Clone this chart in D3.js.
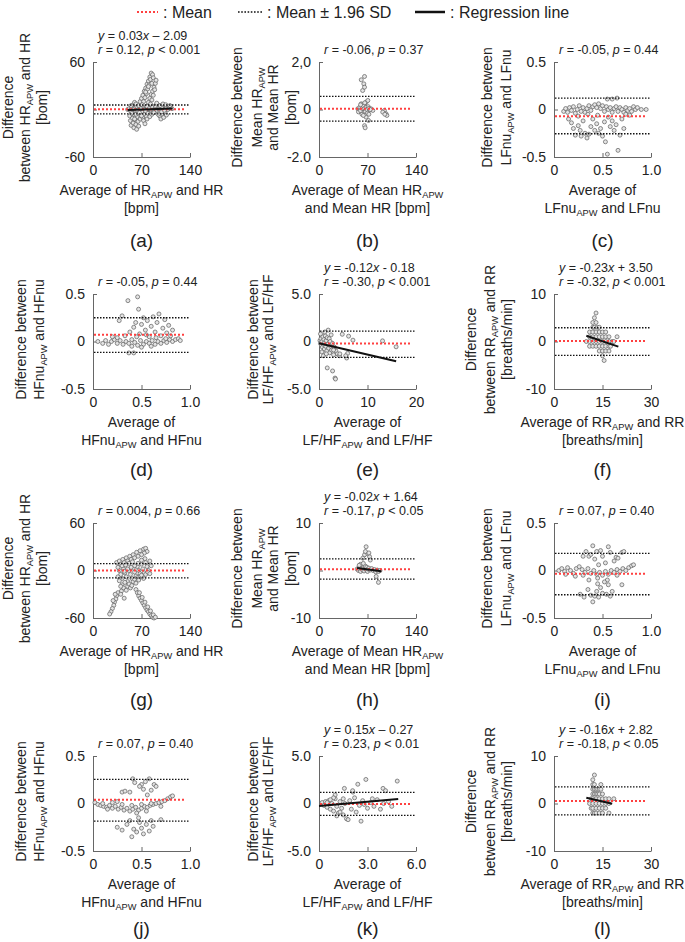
<!DOCTYPE html>
<html>
<head>
<meta charset="utf-8">
<script src="https://cdn.jsdelivr.net/npm/d3@7"></script>
<style>
  body { margin: 0; background: #fff; }
  svg { display: block; }
  text { font-family: "Liberation Sans", Arial, sans-serif; fill: #222; }
</style>
</head>
<body>
<svg width="685" height="942"></svg>
<script>
// ---- data ----
var panelIds = ["a", "b", "c", "d", "e", "f", "g", "h", "i", "j", "k", "l"];

var xDomains = [[0,140],[0,140],[0,1],[0,1],[0,20],[0,30],[0,140],[0,140],[0,1],[0,1],[0,6],[0,30]];
var yDomains = [[-60,60],[-2,2],[-0.5,0.5],[-0.5,0.5],[-5,5],[-10,10],[-60,60],[-10,10],[-0.5,0.5],[-0.5,0.5],[-5,5],[-10,10]];

var xTickLabels = [["0","70","140"],["0","70","140"],["0","0.5","1.0"],["0","0.5","1.0"],["0","10","20"],["0","15","30"],
                   ["0","70","140"],["0","70","140"],["0","0.5","1.0"],["0","0.5","1.0"],["0","3.0","6.0"],["0","15","30"]];
var yTickLabels = [["-60","0","60"],["-2.0","0","2,0"],["-0.5","0","0.5"],["-0.5","0","0.5"],["-5.0","0","5.0"],["-10","0","10"],
                   ["-60","0","60"],["-10","0","10"],["-0.5","0","0.5"],["-0.5","0","0.5"],["-5.0","0","5.0"],["-10","0","10"]];

var meanDiff = [0.2, 0.03, -0.07, 0.07, -0.2, 0.1, 0, 0.28, -0.035, 0.04, -0.05, 0.55];
var upperLoA = [5.7, 0.55, 0.12, 0.25, 1.1, 2.9, 8.8, 2.43, 0.18, 0.255, 1.18, 3.5];
var lowerLoA = [-5.5, -0.49, -0.255, -0.115, -1.67, -2.9, -9.2, -1.8, -0.255, -0.185, -1.25, -2.4];

var regSlope = [0.03, null, null, null, -0.12, -0.23, null, -0.02, null, null, 0.15, -0.16];
var regIntercept = [-2.09, null, null, null, -0.18, 3.50, null, 1.64, null, null, -0.27, 2.82];
var regRange = [[50,115], null, null, null, [0,15.9], [10,19.9], null, [55,90], null, null, [0,4.9], [10,18]];

var statsEq = ["*y* = 0.03*x* \u2013 2.09", null, null, null, "*y* = -0.12*x* - 0.18", "*y* = -0.23*x* + 3.50",
               null, "*y* = -0.02*x* + 1.64", null, null, "*y* = 0.15*x* \u2013 0.27", "*y* = -0.16*x* + 2.82"];
var statsR = ["*r* = 0.12, *p* < 0.001", "*r* = -0.06, *p* = 0.37", "*r* = -0.05, *p* = 0.44", "*r* = -0.05, *p* = 0.44",
              "*r* = -0.30, *p* < 0.001", "*r* = -0.32, *p* < 0.001", "*r* = 0.004, *p* = 0.66", "*r* = -0.17, *p* < 0.05",
              "*r* = 0.07, *p* = 0.40", "*r* = 0.07, *p* = 0.40", "*r* = 0.23, *p* < 0.01", "*r* = -0.18, *p* < 0.05"];

var yLabels = {
  hr:   ["Difference", "between HR{APW} and HR", "[bom]"],
  mhr:  ["Difference between", "Mean HR{APW}", "and Mean HR", "[bom]"],
  lf:   ["Difference between", "LFnu{APW} and LFnu"],
  hf:   ["Difference between", "HFnu{APW} and HFnu"],
  lfhf: ["Difference between", "LF/HF{APW} and LF/HF"],
  rr:   ["Difference", "between RR{APW} and RR", "[breaths/min]"]
};
var xLabels = {
  hr:   ["Average of HR{APW} and HR", "[bpm]"],
  mhr:  ["Average of Mean HR{APW}", "and Mean HR [bpm]"],
  lf:   ["Average of", "LFnu{APW} and LFnu"],
  hf:   ["Average of", "HFnu{APW} and HFnu"],
  lfhf: ["Average of", "LF/HF{APW} and LF/HF"],
  rr:   ["Average of RR{APW} and RR", "[breaths/min]"]
};
var panelKind = ["hr","mhr","lf","hf","lfhf","rr","hr","mhr","lf","hf","lfhf","rr"];

var pointsA = [[50,0],[52,1],[54,-1],[56,2],[58,0],[60,1],[62,-2],[64,0],[66,2],[68,-1],[70,1],[72,3],[74,0],[76,-2],[78,2],
  [80,0],[82,1],[84,-1],[86,3],[88,0],[90,2],[92,-1],[94,1],[96,3],[98,0],[100,2],[102,-2],[104,1],[106,3],[108,0],[110,2],
  [112,4],[114,1],[55,-3],[63,4],[71,-3],[79,5],[87,-3],[95,5],[103,-4],[111,5],
  [53,-8],[54,-14],[55,-20],[56,-5],[57,-11],[58,-17],[59,-23],[60,-7],[61,-13],[62,-19],[63,-25],[64,-9],[65,-15],[66,-21],
  [67,-6],[68,-12],[58,6],[60,9],[62,7],[55,5],
  [60,-12],[62,-6],[64,-1],[66,5],[68,10],[70,14],[72,18],[74,23],[76,27],[78,32],[80,36],[82,41],[84,46],[86,44],[83,38],
  [81,31],[79,26],[77,20],[75,15],[73,10],[71,6],[69,1],[67,-4],[85,33],[87,40],[80,29],[76,22],
  [72,-10],[74,-6],[76,-2],[78,4],[80,9],[82,14],[84,19],[86,23],[88,28],[90,33],[91,37],[89,25],[87,18],[85,12],[83,7],
  [81,1],[79,-5],[77,-9],
  [96,-8],[98,-12],[100,-6],[102,-10],[104,-4],[106,-7],[97,5],[101,7],[105,6],[99,-3],[103,-1],
  [70,-8],[73,-14],[75,-18],[78,-12],[82,-9],[85,-6],[88,-4],[90,5],[92,8],[94,-6]];

var pointsB = [[65.7,1.39],[61,1.25],[64.7,1.08],[63,0.8],[65.7,0.94],[68,0.31],[70.5,0.38],[65.7,0.17],[61,0.24],[56,0.03],
  [58.5,-0.04],[63,-0.11],[68,-0.32],[71.4,-0.46],[65.7,-0.68],[66.6,-0.77],[75,0.03],[77.7,-0.04],[94.4,-0.04],[96.8,-0.18],
  [98,-0.25],[92,-0.11],[95,-0.2],[57,-0.1],[59,0.1],[60,-0.05],[62,0.05],[63,0.2],[64,0.15],[66,0.05],[67,-0.08],[68,0.1],
  [69,0.0],[70,-0.15],[71,0.12],[72,0.05],[73,-0.02],[74,0.0],[62,-0.2],[64,-0.25],[66,0.28],[60,0.2],[72,-0.2]];

var pointsC = [[0.1,-0.02],[0.12,0.01],[0.14,-0.03],[0.16,0.02],[0.18,-0.01],[0.2,0.03],[0.22,-0.04],[0.24,0.0],[0.26,0.04],
  [0.28,-0.02],[0.3,0.02],[0.32,-0.03],[0.34,0.01],[0.36,0.04],[0.38,-0.01],[0.4,0.03],[0.42,0.05],[0.44,0.02],[0.46,0.06],
  [0.48,0.01],[0.5,0.04],[0.52,-0.02],[0.54,0.03],[0.56,0.0],[0.58,0.02],[0.6,-0.03],[0.62,0.01],[0.64,0.03],[0.66,-0.02],
  [0.68,0.02],[0.7,0.0],[0.72,-0.03],[0.74,0.02],[0.76,-0.01],[0.78,0.01],[0.8,-0.02],[0.82,0.03],[0.84,0.0],[0.86,0.02],
  [0.9,0.0],[0.95,0.0],
  [0.15,-0.1],[0.18,-0.14],[0.2,-0.2],[0.22,-0.27],[0.25,-0.17],[0.27,-0.22],[0.28,-0.28],[0.3,-0.12],[0.32,-0.25],[0.34,-0.3],
  [0.36,-0.26],[0.38,-0.18],[0.4,-0.1],[0.42,-0.22],[0.44,-0.15],[0.45,-0.06],[0.46,-0.25],[0.48,-0.2],[0.5,-0.28],[0.52,-0.13],
  [0.53,-0.34],[0.55,-0.47],[0.56,-0.08],[0.58,-0.18],[0.6,-0.12],[0.62,-0.22],[0.64,-0.16],[0.66,-0.43],[0.68,-0.27],[0.7,-0.1],
  [0.72,-0.2],[0.74,-0.05],[0.78,-0.06],[0.35,-0.05],[0.25,-0.07],[0.55,0.11],[0.65,0.12],[0.6,0.11]];

var pointsD = [[0.05,0.0],[0.1,-0.02],[0.13,0.01],[0.16,-0.03],[0.19,0.0],[0.22,0.02],[0.25,-0.02],[0.28,0.01],[0.31,-0.03],
  [0.34,0.0],[0.37,-0.02],[0.4,0.02],[0.43,-0.01],[0.46,-0.04],[0.49,0.01],[0.52,-0.03],[0.55,0.0],[0.58,-0.02],[0.61,0.01],
  [0.64,-0.03],[0.67,0.0],[0.7,-0.02],[0.73,0.01],[0.76,-0.01],[0.79,0.02],[0.82,0.0],[0.85,0.02],[0.88,0.03],[0.9,0.01],
  [0.27,0.22],[0.3,0.27],[0.36,0.43],[0.46,0.47],[0.47,0.34],[0.38,0.1],[0.42,0.15],[0.44,0.2],[0.48,0.08],[0.5,0.18],
  [0.52,0.25],[0.54,0.12],[0.56,0.22],[0.58,0.05],[0.6,0.16],[0.62,0.26],[0.64,0.1],[0.66,0.2],[0.68,0.29],[0.7,0.06],
  [0.72,0.14],[0.74,0.23],[0.76,0.09],[0.78,0.17],[0.8,0.06],[0.82,0.12],[0.45,0.05],[0.55,0.07],[0.65,0.04],[0.75,0.03],
  [0.2,0.05],[0.25,0.04],[0.33,0.06],[0.37,-0.12],[0.42,-0.12],[0.4,-0.05],[0.5,-0.06],[0.6,-0.05]];

var pointsE = [[0.2,0.1],[0.3,-0.2],[0.4,0.3],[0.5,-0.4],[0.6,0.0],[0.7,-0.6],[0.8,0.5],[0.9,-0.3],[1.0,0.2],[1.1,-0.8],
  [1.2,-0.1],[1.3,0.6],[1.4,-0.5],[1.5,0.1],[1.6,-1.0],[1.7,0.4],[1.8,-0.3],[1.9,1.2],[2.0,-0.7],[2.1,0.3],[2.2,-1.2],
  [2.3,0.0],[2.4,-0.5],[2.6,-0.9],[2.8,-0.2],[3.0,-1.4],[3.2,-0.6],[3.5,-1.0],[3.8,-1.3],[4.2,-1.5],[0.3,0.8],[0.6,-1.1],
  [0.9,-1.5],[1.2,1.0],[1.5,-1.3],[2.5,0.7],[1.7,-2.78],[2.8,-3.1],[3.3,-3.85],[3.4,-3.95],[4.3,-1.3],[5.7,-1.74],[5.9,-1.25],
  [4.8,0.76],[6.1,0.56],[7.0,0.14],[13.1,0.07],[15.9,-0.56],[5.5,-1.5],[3.0,-0.9]];

var pointsF = [[13,6],[12.5,5],[12,4],[13,4],[12,3],[12.5,3],[13.5,3],[14,3],[11,2],[12,2],[13,2],[14,2],[15,2],[16,2],
  [11,1],[12,1],[13,1],[14,1],[15,1],[16,1],[17,1],[19.5,1],[10,0],[11,0],[12,0],[13,0],[14,0],[15,0],[16,0],[17,0],[18,0],
  [18.5,0],[11,-1],[12,-1],[13,-1],[14,-1],[15,-1],[16,-1],[17,-1],[17.5,-1],[14,-2],[15,-2],[16,-2],[17,-2],[15,-3],[15.5,-4]];

var pointsG = [[34,10],[38,12],[43,14],[48,16],[53,18],[58,20],[63,23],[68,25],[73,27],[76,28],[78,24],[74,22],[70,20],[65,18],
  [60,16],[55,14],[50,12],[45,10],[40,8],
  [38,0],[40,-5],[42,-10],[44,2],[46,-3],[48,-8],[50,-14],[52,0],[54,-5],[56,-10],[58,3],[60,-2],[62,-7],[64,5],[66,0],
  [68,-4],[70,8],[72,2],[74,-3],[76,10],[78,5],[80,0],[82,12],[84,6],[75,15],[70,13],[65,9],[60,6],[55,4],[50,2],[45,-1],
  [42,-18],[44,-22],[46,-15],[48,-25],[50,-20],[52,-17],[54,-22],[56,-19],[58,-14],[60,-11],[62,-16],[64,-9],[66,-12],
  [68,-8],[70,-6],[73,-10],[76,-5],[79,-2],[82,-4],[36,-8],[38,-13],[40,-20],[41,-26],[36,4],[42,6],[47,7],[52,9],[57,11],
  [36,-28],[34,-32],[33,-36],[31,-40],[30,-44],[28,-48],[26,-52],[24,-55],[32,-30],[29,-38],[45,-35],[40,-30],
  [62,-24],[64,-28],[66,-32],[68,-35],[70,-38],[72,-41],[74,-44],[76,-47],[78,-50],[80,-52],[82,-55],[84,-57],[86,-59],
  [88,-60],[67,-28],[71,-34],[75,-40],[79,-46],[83,-51],[87,-56],[90,-59]];

var pointsH = [[68,5.0],[65.7,3.3],[70.5,3.5],[73,2.9],[74,2.2],[63.3,2.6],[67,4.0],[72,3.7],[55,0.3],[57,0.0],[58,0.8],
  [59,0.2],[60,-0.2],[61,0.5],[62,1.0],[63,0.1],[64,0.6],[65,-0.1],[66,0.4],[67,0.9],[68,0.2],[69,0.7],[70,-0.2],[71,0.3],
  [72,0.5],[74,0.1],[76,0.4],[78,0.0],[80,0.2],[82,-0.3],[84,0.1],[86,-0.2],[88,0.0],[60,1.3],[64,1.5],[58,1.1],
  [85.8,-2.5],[82.5,-1.25]];

var pointsI = [[0.05,0.0],[0.08,0.02],[0.11,-0.01],[0.14,0.03],[0.17,0.0],[0.2,-0.03],[0.23,0.02],[0.26,0.04],[0.29,0.01],
  [0.32,-0.02],[0.35,0.02],[0.38,-0.03],[0.41,0.0],[0.44,-0.04],[0.47,-0.02],[0.5,-0.05],[0.53,-0.01],[0.56,-0.04],[0.59,0.0],
  [0.62,-0.02],[0.65,0.01],[0.68,-0.01],[0.71,0.02],[0.74,0.0],[0.77,0.03],[0.8,0.05],[0.82,0.06],[0.12,-0.04],[0.22,-0.06],
  [0.3,-0.05],[0.45,-0.08],[0.55,-0.1],[0.65,-0.05],
  [0.3,0.15],[0.33,0.2],[0.36,0.15],[0.38,0.17],[0.4,0.26],[0.42,0.12],[0.44,0.2],[0.48,0.21],[0.5,0.15],[0.53,0.08],
  [0.56,0.25],[0.58,0.19],[0.62,0.1],[0.64,0.14],[0.66,0.13],[0.7,0.19],[0.72,0.2],[0.46,0.06],
  [0.27,-0.25],[0.31,-0.28],[0.35,-0.2],[0.38,-0.26],[0.4,-0.33],[0.42,-0.27],[0.44,-0.22],[0.46,-0.28],[0.48,-0.18],
  [0.5,-0.24],[0.52,-0.12],[0.54,-0.25],[0.56,-0.15],[0.58,-0.27],[0.6,-0.22],[0.7,-0.15],[0.45,-0.14],[0.36,-0.1]];

var pointsJ = [[0.02,0.01],[0.05,-0.01],[0.08,-0.02],[0.11,-0.03],[0.14,-0.04],[0.17,-0.02],[0.2,-0.05],[0.23,-0.03],
  [0.26,-0.06],[0.29,-0.04],[0.32,-0.07],[0.35,-0.05],[0.38,-0.08],[0.41,-0.06],[0.44,-0.04],[0.47,-0.07],[0.5,-0.05],
  [0.53,-0.03],[0.56,-0.04],[0.59,-0.02],[0.62,-0.01],[0.65,0.0],[0.68,0.01],[0.71,0.02],[0.74,0.03],[0.77,0.05],[0.8,0.07],
  [0.82,0.08],[0.1,0.0],[0.2,0.01],[0.3,-0.01],[0.4,-0.02],[0.5,-0.01],[0.6,0.0],[0.7,-0.03],[0.25,0.02],[0.15,-0.06],
  [0.45,-0.1],[0.55,-0.08],
  [0.3,0.12],[0.33,0.13],[0.38,0.12],[0.41,0.26],[0.43,0.22],[0.5,0.2],[0.52,0.15],[0.54,0.23],[0.58,0.26],[0.6,0.14],
  [0.63,0.2],[0.65,0.18],[0.48,0.18],[0.56,0.09],
  [0.25,-0.25],[0.3,-0.28],[0.35,-0.22],[0.4,-0.35],[0.42,-0.27],[0.45,-0.3],[0.48,-0.2],[0.5,-0.26],[0.52,-0.32],
  [0.55,-0.22],[0.58,-0.29],[0.6,-0.18],[0.62,-0.24],[0.7,-0.17],[0.47,-0.15],[0.38,-0.18]];

var pointsK = [[0.2,0.1],[0.3,-0.2],[0.4,0.2],[0.5,-0.4],[0.6,0.3],[0.7,-0.6],[0.8,0.0],[0.9,-0.8],[1.0,0.5],[1.1,-0.3],
  [1.2,-1.0],[1.0,0.9],[0.9,0.6],[1.3,0.2],[1.4,-0.5],[1.5,-1.2],[1.6,0.0],[1.7,-1.6],[1.8,-1.7],[1.9,0.3],[2.0,-0.6],
  [2.1,1.2],[2.2,0.6],[2.4,2.03],[2.5,-0.2],[2.6,-1.86],[2.7,0.3],[2.9,2.53],[3.0,-0.5],[3.2,0.1],[3.4,-0.3],[3.6,0.4],
  [3.8,-0.6],[3.96,1.59],[4.12,1.35],[4.3,0.2],[4.5,-0.3],[4.84,2.36],[1.57,1.59],[2.08,1.35],[0.5,0.1],[0.7,0.4],
  [1.1,-1.3],[1.3,-0.9],[1.5,0.5],[2.3,-0.9],[2.8,-0.1],[3.3,0.5],[4.0,0.0]];

var pointsL = [[12.5,6],[12,5],[12,4],[12.5,4],[14.5,4],[12,3],[12.5,3],[13,3],[13.5,3],[14,3],[14.5,3],[12,2],[12.5,2],
  [13,2],[13.5,2],[14,2],[15,2],[11.5,1],[12,1],[13,1],[14,1],[15,1],[16,1],[17,1],[18.5,1],[11,0],[12,0],[13,0],[14,0],
  [15,0],[16,0],[17,0],[11.5,-1],[12,-1],[13,-1],[14,-1],[15,-1],[16,-1],[12,-2],[12.5,-2],[13,-2],[14,-2],[15,-2],[17,-2]];

var allPoints = [pointsA, pointsB, pointsC, pointsD, pointsE, pointsF, pointsG, pointsH, pointsI, pointsJ, pointsK, pointsL];

// ---- layout ----
var svg = d3.select("svg");
var colX = [93, 319, 554];
var rowTop = [62, 294, 523, 756];
var letterY = [247, 476, 706, 935];
var plotW = 97, plotH = 95;

var yLabelOffsets = {
  hr: [-85, -68, -51], mhr: [-82, -62, -46, -28], lf: [-67, -48],
  hf: [-72, -54], lfhf: [-66, -51], rr: [-83, -64, -47]
};

// text with {sub} and *italic* markup
function richText(sel, str, fs) {
  var parts = str.split(/(\{[^}]*\}|\*[^*]*\*)/).filter(function(s) { return s.length; });
  var shifted = false;
  parts.forEach(function(p) {
    var t = sel.append("tspan");
    if (p[0] == "{") {
      t.text(p.slice(1, -1)).attr("font-size", fs * 0.66).attr("dy", fs * 0.22);
      shifted = true;
    } else {
      if (p[0] == "*") { t.text(p.slice(1, -1)).attr("font-style", "italic"); }
      else t.text(p);
      if (shifted) { t.attr("dy", -fs * 0.22); shifted = false; }
    }
  });
}

// legend
var leg = svg.append("g");
leg.append("line").attr("x1", 137).attr("x2", 158).attr("y1", 12).attr("y2", 12)
  .attr("stroke", "#ff4040").attr("stroke-width", 2.2).attr("stroke-dasharray", "2,2");
leg.append("text").attr("x", 163).attr("y", 18).attr("font-size", 16).text(": Mean");
leg.append("line").attr("x1", 238).attr("x2", 262).attr("y1", 12).attr("y2", 12)
  .attr("stroke", "#111").attr("stroke-width", 1.6).attr("stroke-dasharray", "1.6,1.6");
leg.append("text").attr("x", 267).attr("y", 18).attr("font-size", 16).text(": Mean \u00b1 1.96 SD");
leg.append("line").attr("x1", 415).attr("x2", 445).attr("y1", 12).attr("y2", 12)
  .attr("stroke", "#111").attr("stroke-width", 2.5);
leg.append("text").attr("x", 450).attr("y", 18).attr("font-size", 16).text(": Regression line");

panelIds.forEach(function(id, i) {
  var left = colX[i % 3], top = rowTop[Math.floor(i / 3)];
  var kind = panelKind[i];
  var g = svg.append("g").attr("class", "panel-" + id);

  var x = d3.scaleLinear().domain(xDomains[i]).range([left, left + plotW]);
  var y = d3.scaleLinear().domain(yDomains[i]).range([top + plotH, top]);

  var xd = xDomains[i], yd = yDomains[i];
  var xVals = [xd[0], (xd[0] + xd[1]) / 2, xd[1]];
  var yVals = [yd[0], (yd[0] + yd[1]) / 2, yd[1]];

  var xAxis = g.append("g").attr("transform", "translate(0," + (top + plotH) + ")")
    .call(d3.axisBottom(x).tickValues(xVals).tickFormat(function(d, k) { return xTickLabels[i][k]; })
      .tickSize(-4).tickSizeOuter(0).tickPadding(8));
  var yAxis = g.append("g").attr("transform", "translate(" + left + ",0)")
    .call(d3.axisLeft(y).tickValues(yVals).tickFormat(function(d, k) { return yTickLabels[i][k]; })
      .tickSize(-4).tickSizeOuter(0).tickPadding(8));
  [xAxis, yAxis].forEach(function(a) {
    a.attr("font-family", null).attr("font-size", null);
    a.select(".domain").attr("stroke", "#666");
    a.selectAll(".tick line").attr("stroke", "#666");
    a.selectAll(".tick text").attr("font-size", 14).attr("fill", "#222");
  });

  // points
  g.append("g").selectAll("circle").data(allPoints[i]).enter().append("circle")
    .attr("cx", function(d) { return x(d[0]); })
    .attr("cy", function(d) { return y(d[1]); })
    .attr("r", 2)
    .attr("fill", "#e4e4e4").attr("stroke", "#666").attr("stroke-width", 0.75);

  // limits of agreement and mean
  [upperLoA[i], lowerLoA[i]].forEach(function(v) {
    g.append("line").attr("x1", x(xd[0]) + 1).attr("x2", x(xd[1])).attr("y1", y(v)).attr("y2", y(v))
      .attr("stroke", "#111").attr("stroke-width", 1.3).attr("stroke-dasharray", "1.5,1.5");
  });
  g.append("line").attr("x1", x(xd[0]) + 1).attr("x2", x(xd[1]) - 4).attr("y1", y(meanDiff[i])).attr("y2", y(meanDiff[i]))
    .attr("stroke", "#ff4040").attr("stroke-width", 2).attr("stroke-dasharray", "2,2");

  // regression
  if (regSlope[i] != null) {
    var r0 = regRange[i];
    g.append("line")
      .attr("x1", x(r0[0])).attr("y1", y(regSlope[i] * r0[0] + regIntercept[i]))
      .attr("x2", x(r0[1])).attr("y2", y(regSlope[i] * r0[1] + regIntercept[i]))
      .attr("stroke", "#111").attr("stroke-width", 2);
  }

  // stats text
  var sx = left + 5;
  if (statsEq[i]) richText(g.append("text").attr("x", sx).attr("y", top - 22).attr("font-size", 12.5).attr("fill", "#333"), statsEq[i], 12.5);
  richText(g.append("text").attr("x", sx).attr("y", top - 8).attr("font-size", 12.5).attr("fill", "#333"), statsR[i], 12.5);

  // y label
  var cy = top + plotH / 2 - 2;
  yLabels[kind].forEach(function(line, k) {
    var t = g.append("text").attr("text-anchor", "middle").attr("font-size", 14)
      .attr("transform", "translate(" + (left + yLabelOffsets[kind][k]) + "," + cy + ") rotate(-90)")
      .attr("dy", "0.35em");
    richText(t, line, 14);
  });

  // x label
  var cx = left + plotW / 2;
  xLabels[kind].forEach(function(line, k) {
    var t = g.append("text").attr("text-anchor", "middle").attr("font-size", 14)
      .attr("x", cx).attr("y", top + plotH + 38 + k * 17.5);
    richText(t, line, 14);
  });

  // panel letter
  g.append("text").attr("text-anchor", "middle").attr("font-size", 19)
    .attr("x", cx).attr("y", letterY[Math.floor(i / 3)]).text("(" + id + ")");
});
</script>
</body>
</html>
